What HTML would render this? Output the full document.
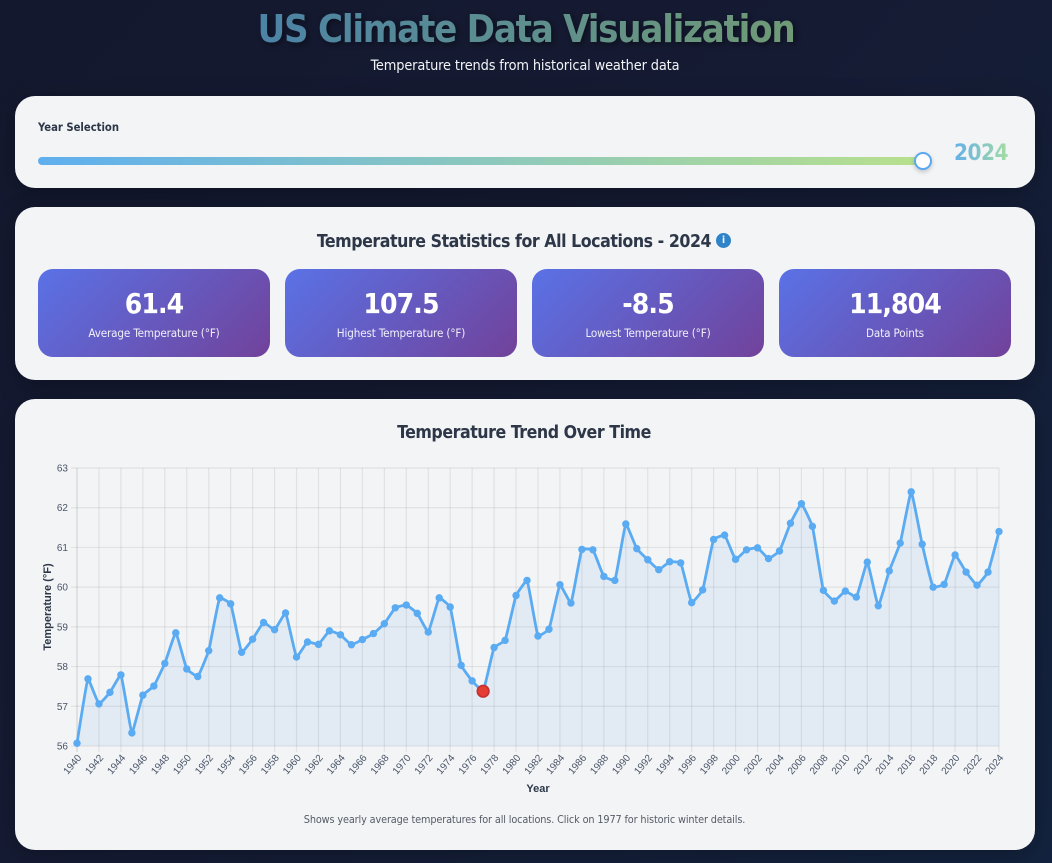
<!DOCTYPE html>
<html lang="en">
<head>
<meta charset="utf-8">
<title>US Climate Data Visualization</title>
<style>
html,body{margin:0;padding:0}
body{width:1052px;height:863px;overflow:hidden;position:relative;background:linear-gradient(135deg,#14182e 0%,#151b33 45%,#13233f 100%);font-family:"DejaVu Sans Condensed","DejaVu Sans",sans-serif}
.abs{position:absolute}
.card{position:absolute;left:15px;width:1020px;background:#f3f4f6;border-radius:20px;box-shadow:0 6px 24px rgba(0,0,0,.25)}
.title{left:0;width:1052px;top:7px;margin:0;text-align:center;font-size:38px;line-height:44px;font-weight:700;letter-spacing:-1.25px}
.title span{background:linear-gradient(90deg,#4c83a6,#709a76);-webkit-background-clip:text;background-clip:text;color:transparent;filter:drop-shadow(2px 2px 3px rgba(0,0,0,.45))}
.subtitle{left:0;width:1050px;top:56px;text-align:center;color:#f2f4f7;font-size:14.4px;line-height:20px;letter-spacing:-.13px}
.h2{position:absolute;margin:0;left:0;width:1052px;text-align:center;color:#2d3748;font-size:17.6px;font-weight:700;line-height:22px;letter-spacing:-.45px}
.stat{position:absolute;top:269px;width:232px;height:88px;border-radius:15px;background:linear-gradient(135deg,#5a72e6,#71429a);color:#fff;text-align:center}
.stat b{display:block;margin-top:18px;font-size:28px;line-height:34px;font-weight:700;letter-spacing:-.9px}
.stat span{display:block;margin-top:4px;font-size:11.6px;line-height:16px;color:#f0effa;letter-spacing:-.14px}
</style>
</head>
<body>
<h1 class="abs title"><span>US Climate Data Visualization</span></h1>
<div class="abs subtitle">Temperature trends from historical weather data</div>

<div class="card" style="top:96px;height:92px"></div>
<div class="abs" style="left:38px;top:121px;font-size:11.2px;line-height:14px;font-weight:700;color:#2d3748">Year Selection</div>
<div class="abs" style="left:38px;top:157px;width:888px;height:8px;border-radius:4px;background:linear-gradient(90deg,#5fafef,#b8e08c)"></div>
<div class="abs" style="left:914px;top:152px;width:14px;height:14px;border:2px solid #5aa9f0;border-radius:50%;background:#fff;box-shadow:0 2px 5px rgba(0,0,0,.2)"></div>
<div class="abs" style="left:954px;top:139px;font-size:22.4px;line-height:28px;font-weight:700;letter-spacing:-.5px;background:linear-gradient(90deg,#63b0e8,#a4dca4);-webkit-background-clip:text;background-clip:text;color:transparent">2024</div>

<div class="card" style="top:207px;height:173px"></div>
<h2 class="h2" style="top:231px;left:-12px">Temperature Statistics for All Locations - 2024</h2>
<div class="abs" style="left:716px;top:233px;width:15px;height:15px;border-radius:50%;background:#2f83c8;color:#fff;font-size:10px;font-weight:700;line-height:15px;text-align:center">i</div>

<div class="stat" style="left:38px"><b>61.4</b><span>Average Temperature (°F)</span></div>
<div class="stat" style="left:285px"><b>107.5</b><span>Highest Temperature (°F)</span></div>
<div class="stat" style="left:532px"><b>-8.5</b><span>Lowest Temperature (°F)</span></div>
<div class="stat" style="left:779px"><b>11,804</b><span>Data Points</span></div>

<div class="card" style="top:399px;height:451px"></div>
<h2 class="h2" style="top:422px;left:-2px">Temperature Trend Over Time</h2>
<svg id="chart" class="abs" style="left:0;top:0" width="1052" height="863" viewBox="0 0 1052 863"></svg>
<div class="abs" style="left:0;width:1049px;top:812px;text-align:center;font-size:10.8px;line-height:15px;letter-spacing:-.13px;color:#555b66">Shows yearly average temperatures for all locations. Click on 1977 for historic winter details.</div>

<script>
const startYear = 1940;
const temperatures = [
56.07,57.69,57.06,57.35,57.79,56.33,57.28,57.51,58.08,58.85,
57.94,57.75,58.40,59.73,59.58,58.36,58.69,59.11,58.93,59.35,
58.24,58.62,58.56,58.90,58.80,58.55,58.68,58.83,59.08,59.48,
59.55,59.34,58.87,59.73,59.50,58.03,57.64,57.38,58.48,58.66,
59.79,60.17,58.77,58.94,60.06,59.60,60.95,60.94,60.27,60.17,
61.59,60.97,60.69,60.44,60.64,60.61,59.61,59.93,61.20,61.31,
60.70,60.94,60.99,60.72,60.91,61.61,62.10,61.53,59.92,59.65,
59.90,59.75,60.63,59.53,60.41,61.11,62.40,61.08,60.00,60.07,
60.81,60.38,60.05,60.38,61.40];
const years = temperatures.map(function(_, i){ return startYear + i; });
const yTicks = [56,57,58,59,60,61,62,63];
const highlightYear = 1977;

const NS = 'http://www.w3.org/2000/svg';
const svg = document.getElementById('chart');
const plot = {left:77, right:999, top:468, bottom:746};
function xScale(year){
  return plot.left + (year - years[0]) / (years[years.length-1] - years[0]) * (plot.right - plot.left);
}
function yScale(v){
  return plot.bottom - (v - yTicks[0]) / (yTicks[yTicks.length-1] - yTicks[0]) * (plot.bottom - plot.top);
}
function make(tag, attrs, parent){
  const el = document.createElementNS(NS, tag);
  for (const k in attrs) el.setAttribute(k, attrs[k]);
  (parent || svg).appendChild(el);
  return el;
}
const FONT = '"Liberation Sans", Arial, sans-serif';

yTicks.forEach(function(t){
  const y = yScale(t);
  const line = make('line', {x1:71, x2:plot.right, y1:y, y2:y, stroke:'rgba(0,0,0,0.075)', 'stroke-width':1.2});
  
  
  const label = make('text', {x:68, y:yScale(t)+3.5, 'text-anchor':'end', 'font-family':FONT, 'font-size':10, fill:'#4a5568'});
  label.textContent = String(t);
  
  
});

years.forEach(function(yr){
  if ((yr - years[0]) % 2 !== 0) return;
  const x = xScale(yr);
  const line = make('line', {x1:x, x2:x, y1:plot.top, y2:plot.bottom+6, stroke:yr===years[0]?'rgba(0,0,0,0.13)':'rgba(0,0,0,0.075)', 'stroke-width':1.2});
  
  
  const lx = xScale(yr) + 5, ly = plot.bottom + 12;
  const label = make('text', {x:lx, y:ly, 'text-anchor':'end', 'font-family':FONT, 'font-size':10, fill:'#4a5568', transform:'rotate(-50 '+lx+' '+ly+')'});
  label.textContent = String(yr);
  
  
});

const pts = years.map(function(yr, i){ return {x:xScale(yr), y:yScale(temperatures[i])}; });
function controlPoints(i){
  const t = 0.1, p = pts[i], a = pts[Math.max(i-1,0)], b = pts[Math.min(i+1,pts.length-1)];
  const d01 = Math.hypot(p.x-a.x,p.y-a.y), d12 = Math.hypot(b.x-p.x,b.y-p.y);
  const s = d01+d12 || 1, fa = t*d01/s, fb = t*d12/s;
  return {px:p.x-fa*(b.x-a.x), py:p.y-fa*(b.y-a.y), nx:p.x+fb*(b.x-a.x), ny:p.y+fb*(b.y-a.y)};
}
let d = 'M'+pts[0].x+' '+pts[0].y;
for (let i = 1; i < pts.length; i++){
  const c0 = controlPoints(i-1), c1 = controlPoints(i);
  d += ' C'+c0.nx+' '+c0.ny+' '+c1.px+' '+c1.py+' '+pts[i].x+' '+pts[i].y;
}
const area = make('path', {d:d+' L'+pts[pts.length-1].x+' '+plot.bottom+' L'+pts[0].x+' '+plot.bottom+' Z', fill:'rgba(83,144,226,0.1)'});


const trend = make('path', {d:d, fill:'none', stroke:'#5aabf2', 'stroke-width':2.8});



years.forEach(function(yr, i){
  const hot = yr === highlightYear;
  const c = make('circle', {cx:pts[i].x, cy:pts[i].y, r:hot?5.8:3.7, fill:hot?'#e43e32':'#5aabf2', stroke:hot?'#c53030':'none', 'stroke-width':hot?1.6:0});
  
  
});

const xTitle = make('text', {x:538, y:792, 'text-anchor':'middle', 'font-family':FONT, 'font-size':11, 'font-weight':700, fill:'#2d3748'});
xTitle.textContent = 'Year';


const yTitle = make('text', {x:0, y:0, 'text-anchor':'middle', 'font-family':FONT, 'font-size':11, 'font-weight':700, fill:'#2d3748', transform:'translate(51 607) rotate(-90)'});
yTitle.textContent = 'Temperature (°F)';


</script>
</body>
</html>
